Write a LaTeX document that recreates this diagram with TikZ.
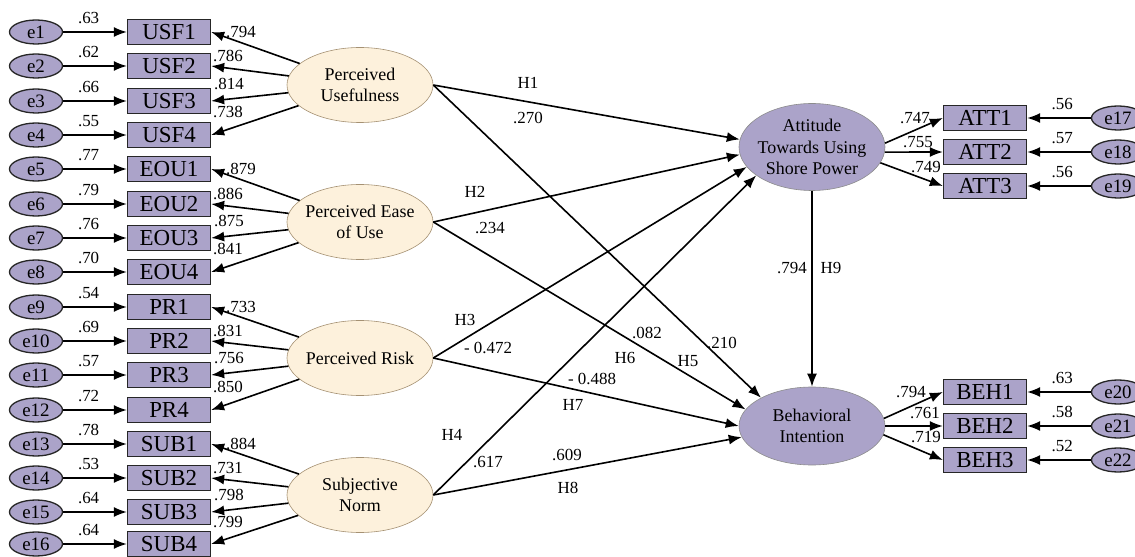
\documentclass[tikz,border=0pt]{standalone}
\usepackage{fontspec}
\setmainfont{Liberation Serif}
\usetikzlibrary{positioning,shapes.geometric,arrows.meta}

\definecolor{semlav}{RGB}{171,163,201}
\definecolor{sembeige}{RGB}{253,241,220}
\definecolor{semtan}{RGB}{165,145,115}

\tikzstyle{indblock} = [rectangle, minimum width=83bp, minimum height=25bp, inner sep=0pt, text centered, draw=black!85, line width=1.3bp, fill=semlav, font=\fontsize{23}{23}\selectfont]
\tikzstyle{errnode} = [ellipse, minimum width=53bp, minimum height=24bp, inner sep=0pt, inner xsep=-2bp, draw=black!85, line width=1.3bp, fill=semlav, font=\fontsize{19}{19}\selectfont]
\tikzstyle{exolatent} = [ellipse, minimum width=146bp, minimum height=75bp, inner sep=0pt, inner xsep=-4bp, align=center, draw=semtan, line width=0.6bp, fill=sembeige, font=\fontsize{18}{21.5}\selectfont]
\tikzstyle{endolatent} = [exolatent, draw=black!45, fill=semlav]
\tikzstyle{coef} = [inner sep=1bp, font=\fontsize{17}{17}\selectfont]
\tikzstyle{arrowline} = [->, line width=1.6bp]

\begin{document}
\begin{tikzpicture}[x=1bp, y=-1bp, node distance=133bp, >={Latex[length=13bp,width=10bp]}]
\useasboundingbox (0,0) rectangle (1135,557);

%Indicator blocks
\node (usf1) [indblock] at (169,32) {USF1};
\node (usf2) [indblock] at (169,66) {USF2};
\node (usf3) [indblock] at (169,101) {USF3};
\node (usf4) [indblock] at (169,135) {USF4};
\node (eou1) [indblock] at (169,169) {EOU1};
\node (eou2) [indblock] at (169,204) {EOU2};
\node (eou3) [indblock] at (169,238) {EOU3};
\node (eou4) [indblock] at (169,272) {EOU4};
\node (pr1) [indblock] at (169,307) {PR1};
\node (pr2) [indblock] at (169,341) {PR2};
\node (pr3) [indblock] at (169,375) {PR3};
\node (pr4) [indblock] at (169,410) {PR4};
\node (sub1) [indblock] at (169,444) {SUB1};
\node (sub2) [indblock] at (169,478) {SUB2};
\node (sub3) [indblock] at (169,512) {SUB3};
\node (sub4) [indblock] at (169,544) {SUB4};
\node (att1) [indblock] at (985,118) {ATT1};
\node (att2) [indblock] at (985,152) {ATT2};
\node (att3) [indblock] at (985,186) {ATT3};
\node (beh1) [indblock] at (985,392) {BEH1};
\node (beh2) [indblock] at (985,426) {BEH2};
\node (beh3) [indblock] at (985,460) {BEH3};

%Error terms
\node (e1) [errnode, left of=usf1] {e1};
\node (e2) [errnode, left of=usf2] {e2};
\node (e3) [errnode, left of=usf3] {e3};
\node (e4) [errnode, left of=usf4] {e4};
\node (e5) [errnode, left of=eou1] {e5};
\node (e6) [errnode, left of=eou2] {e6};
\node (e7) [errnode, left of=eou3] {e7};
\node (e8) [errnode, left of=eou4] {e8};
\node (e9) [errnode, left of=pr1] {e9};
\node (e10) [errnode, left of=pr2] {e10};
\node (e11) [errnode, left of=pr3] {e11};
\node (e12) [errnode, left of=pr4] {e12};
\node (e13) [errnode, left of=sub1] {e13};
\node (e14) [errnode, left of=sub2] {e14};
\node (e15) [errnode, left of=sub3] {e15};
\node (e16) [errnode, left of=sub4] {e16};
\node (e17) [errnode, right of=att1] {e17};
\node (e18) [errnode, right of=att2] {e18};
\node (e19) [errnode, right of=att3] {e19};
\node (e20) [errnode, right of=beh1] {e20};
\node (e21) [errnode, right of=beh2] {e21};
\node (e22) [errnode, right of=beh3] {e22};

%Latent variables
\node (perusef) [exolatent] at (360,85) {Perceived\\Usefulness};
\node (perease) [exolatent] at (360,222) {Perceived Ease\\of Use};
\node (perrisk) [exolatent] at (360,358) {Perceived Risk};
\node (subnorm) [exolatent] at (360,495) {Subjective\\Norm};
\node (attitude) [endolatent, minimum height=87bp] at (812,147) {Attitude\\Towards Using\\Shore Power};
\node (behint) [endolatent, minimum height=78bp] at (812,426) {Behavioral\\Intention};

%Error arrows
\draw [arrowline] (e1) -- node[coef, above=6bp, pos=0.4] {.63} (usf1);
\draw [arrowline] (e2) -- node[coef, above=6bp, pos=0.4] {.62} (usf2);
\draw [arrowline] (e3) -- node[coef, above=6bp, pos=0.4] {.66} (usf3);
\draw [arrowline] (e4) -- node[coef, above=6bp, pos=0.4] {.55} (usf4);
\draw [arrowline] (e5) -- node[coef, above=6bp, pos=0.4] {.77} (eou1);
\draw [arrowline] (e6) -- node[coef, above=6bp, pos=0.4] {.79} (eou2);
\draw [arrowline] (e7) -- node[coef, above=6bp, pos=0.4] {.76} (eou3);
\draw [arrowline] (e8) -- node[coef, above=6bp, pos=0.4] {.70} (eou4);
\draw [arrowline] (e9) -- node[coef, above=6bp, pos=0.4] {.54} (pr1);
\draw [arrowline] (e10) -- node[coef, above=6bp, pos=0.4] {.69} (pr2);
\draw [arrowline] (e11) -- node[coef, above=6bp, pos=0.4] {.57} (pr3);
\draw [arrowline] (e12) -- node[coef, above=6bp, pos=0.4] {.72} (pr4);
\draw [arrowline] (e13) -- node[coef, above=6bp, pos=0.4] {.78} (sub1);
\draw [arrowline] (e14) -- node[coef, above=6bp, pos=0.4] {.53} (sub2);
\draw [arrowline] (e15) -- node[coef, above=6bp, pos=0.4] {.64} (sub3);
\draw [arrowline] (e16) -- node[coef, above=6bp, pos=0.4] {.64} (sub4);
\draw [arrowline] (e17) -- node[coef, above=6bp, pos=0.45] {.56} (att1);
\draw [arrowline] (e18) -- node[coef, above=6bp, pos=0.45] {.57} (att2);
\draw [arrowline] (e19) -- node[coef, above=6bp, pos=0.45] {.56} (att3);
\draw [arrowline] (e20) -- node[coef, above=6bp, pos=0.45] {.63} (beh1);
\draw [arrowline] (e21) -- node[coef, above=6bp, pos=0.45] {.58} (beh2);
\draw [arrowline] (e22) -- node[coef, above=6bp, pos=0.45] {.52} (beh3);

%Loadings
\draw [arrowline] (perusef) -- (usf1.east);
\draw [arrowline] (perusef) -- (usf2.east);
\draw [arrowline] (perusef) -- (usf3.east);
\draw [arrowline] (perusef) -- (usf4.east);
\draw [arrowline] (perease) -- (eou1.east);
\draw [arrowline] (perease) -- (eou2.east);
\draw [arrowline] (perease) -- (eou3.east);
\draw [arrowline] (perease) -- (eou4.east);
\draw [arrowline] (perrisk) -- (pr1.east);
\draw [arrowline] (perrisk) -- (pr2.east);
\draw [arrowline] (perrisk) -- (pr3.east);
\draw [arrowline] (perrisk) -- (pr4.east);
\draw [arrowline] (subnorm) -- (sub1.east);
\draw [arrowline] (subnorm) -- (sub2.east);
\draw [arrowline] (subnorm) -- (sub3.east);
\draw [arrowline] (subnorm) -- (sub4.east);
\draw [arrowline] (attitude.3) -- (att1.west);
\draw [arrowline] (attitude.-4) -- (att2.west);
\draw [arrowline] (attitude.-13) -- (att3.west);
\draw [arrowline] (behint.6) -- (beh1.west);
\draw [arrowline] (behint.0) -- (beh2.west);
\draw [arrowline] (behint.-7) -- (beh3.west);

\node (lusf1) [coef] at (241,32) {.794};
\node (lusf2) [coef] at (228,56) {.786};
\node (lusf3) [coef] at (229,84) {.814};
\node (lusf4) [coef] at (228,112) {.738};
\node (leou1) [coef] at (241,169) {.879};
\node (leou2) [coef] at (228,194) {.886};
\node (leou3) [coef] at (229,221) {.875};
\node (leou4) [coef] at (228,249) {.841};
\node (lpr1) [coef] at (241,307) {.733};
\node (lpr2) [coef] at (228,331) {.831};
\node (lpr3) [coef] at (229,358) {.756};
\node (lpr4) [coef] at (228,387) {.850};
\node (lsub1) [coef] at (241,444) {.884};
\node (lsub2) [coef] at (228,468) {.731};
\node (lsub3) [coef] at (229,495) {.798};
\node (lsub4) [coef] at (228,522) {.799};
\node (latt1) [coef] at (915,118) {.747};
\node (latt2) [coef] at (918,142) {.755};
\node (latt3) [coef] at (926,167) {.749};
\node (lbeh1) [coef] at (911,392) {.794};
\node (lbeh2) [coef] at (925,413) {.761};
\node (lbeh3) [coef] at (926,437) {.719};

%Structural paths
\draw [arrowline] (perusef.east) -- (attitude.174);
\draw [arrowline] (perusef.east) -- (behint.151);
\draw [arrowline] (perease.east) -- (attitude.186);
\draw [arrowline] (perease.east) -- (behint.166);
\draw [arrowline] (perrisk.east) -- (attitude.197);
\draw [arrowline] (perrisk.east) -- (behint.180);
\draw [arrowline] (subnorm.east) -- (attitude.207);
\draw [arrowline] (subnorm.east) -- (behint.189);
\draw [arrowline] (attitude) -- (behint);

\node (h1) [coef] at (528,83) {H1};
\node (b1) [coef] at (528,118) {.270};
\node (h2) [coef] at (475,192) {H2};
\node (b2) [coef] at (490,228) {.234};
\node (h3) [coef] at (465,320) {H3};
\node (b3) [coef] at (488,348) {- 0.472};
\node (h4) [coef] at (452,435) {H4};
\node (b4) [coef] at (488,462) {.617};
\node (h5) [coef] at (688,361) {H5};
\node (b5) [coef] at (722,343) {.210};
\node (h6) [coef] at (625,358) {H6};
\node (b6) [coef] at (647,333) {.082};
\node (h7) [coef] at (573,405) {H7};
\node (b7) [coef] at (592,379) {- 0.488};
\node (h8) [coef] at (568,488) {H8};
\node (b8) [coef] at (567,455) {.609};
\node (b9) [coef] at (792,268) {.794};
\node (h9) [coef] at (831,268) {H9};
\end{tikzpicture}
\end{document}
